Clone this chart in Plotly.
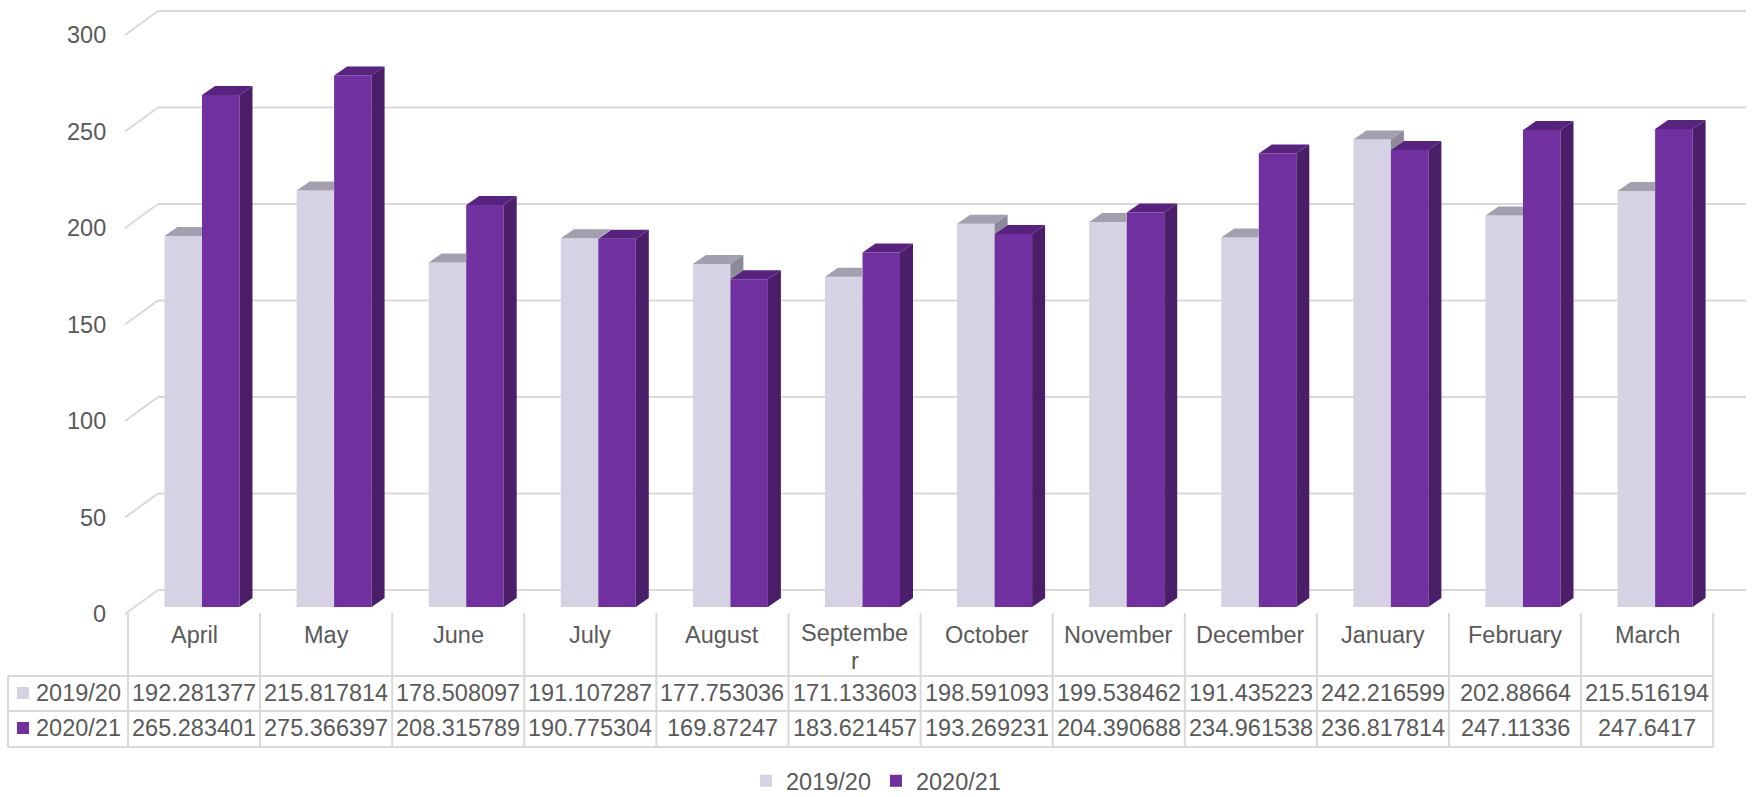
import plotly.graph_objects as go

# ---------------- data ----------------
months = ["April", "May", "June", "July", "August", "September", "October",
          "November", "December", "January", "February", "March"]
month_labels = ["April", "May", "June", "July", "August", "Septembe<br>r", "October",
                "November", "December", "January", "February", "March"]
series_names = ["2019/20", "2020/21"]
values_1920 = [192.281377, 215.817814, 178.508097, 191.107287, 177.753036, 171.133603,
               198.591093, 199.538462, 191.435223, 242.216599, 202.88664, 215.516194]
values_2021 = [265.283401, 275.366397, 208.315789, 190.775304, 169.87247, 183.621457,
               193.269231, 204.390688, 234.961538, 236.817814, 247.11336, 247.6417]
y_ticks = [0, 50, 100, 150, 200, 250, 300]

# ---------------- styling / geometry ----------------
W, H = 1752, 797
X0, XS = 202.0, 132.1          # pixel of first category's bar-pair centre, pixels per category
Y0, YS = 607.0, 1.93           # pixel of value 0 on bar front face, pixels per unit
FONT = "Liberation Sans, Arial, sans-serif"
TXT = "#595959"
GRID = "#D9D9D9"
FS = 23.5

light_front, light_top, light_side = "#D5D2E3", "#A39FAF", "#8D8A99"
purp_front, purp_top, purp_side = "#7030A0", "#57237F", "#4A1E68"


def px2x(p):
    return (p - X0) / XS


def px2y(p):
    return (Y0 - p) / YS


bw = 37.5 / XS      # bar width in category units
dx = 13.0 / XS      # depth offset (x)
dy = 9.0 / YS       # depth offset (y, value units)

idx = list(range(len(months)))

fig = go.Figure()

# front faces as real bars
fig.add_trace(go.Bar(x=idx, y=values_1920, width=bw, offset=-bw, name=series_names[0],
                     marker=dict(color=light_front, line=dict(width=0)),
                     customdata=months, hovertemplate="%{customdata}: %{y}<extra>2019/20</extra>"))
fig.add_trace(go.Bar(x=idx, y=values_2021, width=bw, offset=0, name=series_names[1],
                     marker=dict(color=purp_front, line=dict(width=0)),
                     customdata=months, hovertemplate="%{customdata}: %{y}<extra>2020/21</extra>"))


def poly_trace(xs, ys, color):
    return go.Scatter(x=xs, y=ys, mode="lines", fill="toself", fillcolor=color,
                      line=dict(width=0, color=color), hoverinfo="skip", showlegend=False)


# light series top + visible side
lt_x, lt_y, ls_x, ls_y = [], [], [], []
for i, (a, b) in enumerate(zip(values_1920, values_2021)):
    x0, x1 = i - bw, i
    if b >= a:
        lt_x += [x0, x1, x1, x0 + dx, x0, None]
        lt_y += [a, a, a + dy, a + dy, a, None]
    else:
        lt_x += [x0, x1, x1 + dx, x0 + dx, x0, None]
        lt_y += [a, a, a + dy, a + dy, a, None]
        ls_x += [x1, x1 + dx, x1 + dx, x1, x1, None]
        ls_y += [b, b + dy, a + dy, a, b, None]
fig.add_trace(poly_trace(lt_x, lt_y, light_top))
if ls_x:
    fig.add_trace(poly_trace(ls_x, ls_y, light_side))

# purple series top + side
pt_x, pt_y, ps_x, ps_y = [], [], [], []
for i, b in enumerate(values_2021):
    x1, x2 = i, i + bw
    pt_x += [x1, x2, x2 + dx, x1 + dx, x1, None]
    pt_y += [b, b, b + dy, b + dy, b, None]
    ps_x += [x2, x2 + dx, x2 + dx, x2, x2, None]
    ps_y += [0, dy, b + dy, b, 0, None]
fig.add_trace(poly_trace(pt_x, pt_y, purp_top))
fig.add_trace(poly_trace(ps_x, ps_y, purp_side))

shapes = []
annotations = []


def line(xa, ya, xb, yb, color=GRID, w=2):
    shapes.append(dict(type="line", xref="x", yref="y", x0=px2x(xa), y0=px2y(ya),
                       x1=px2x(xb), y1=px2y(yb), line=dict(color=color, width=w),
                       layer="below"))


# 3D gridlines (back wall + left floor/side diagonal)
for t in y_ticks:
    yb = 590 - YS * t
    yf = 614 - YS * t
    line(158, yb, 1746, yb)
    line(125, yf, 158, yb)
    annotations.append(dict(xref="x", yref="y", x=px2x(108), y=px2y(yf), text=str(t),
                            xanchor="right", yanchor="middle", showarrow=False,
                            font=dict(family=FONT, size=FS, color=TXT)))

# data table grid
COL0 = 128.0
ncol = len(months)
for k in range(ncol + 1):
    xk = COL0 + XS * k
    line(xk, 613, xk, 747)
line(8, 676, 8, 747)
for yy in (676, 711, 747):
    line(8, yy, COL0 + XS * ncol, yy)

# header labels
for k, lab in enumerate(month_labels):
    xc = COL0 + XS * (k + 0.5)
    parts = lab.split("<br>")
    for j, part in enumerate(parts):
        ypx = 635 if len(parts) == 1 else 633 + 28 * j
        annotations.append(dict(xref="x", yref="y", x=px2x(xc), y=px2y(ypx),
                                text=part, xanchor="center", yanchor="middle",
                                showarrow=False, font=dict(family=FONT, size=FS, color=TXT)))

# table rows
for r, (nm, vals, col) in enumerate(zip(series_names, [values_1920, values_2021],
                                        [light_front, purp_front])):
    yc = 693 + 35 * r
    shapes.append(dict(type="rect", xref="x", yref="y", x0=px2x(17), x1=px2x(29),
                       y0=px2y(yc - 6), y1=px2y(yc + 6), fillcolor=col,
                       line=dict(width=0), layer="below"))
    annotations.append(dict(xref="x", yref="y", x=px2x(34), y=px2y(yc), text=nm,
                            xanchor="left", yanchor="middle", showarrow=False,
                            font=dict(family=FONT, size=FS, color=TXT)))
    for k, v in enumerate(vals):
        xc = COL0 + XS * (k + 0.5)
        annotations.append(dict(xref="x", yref="y", x=px2x(xc), y=px2y(yc), text=repr(v),
                                xanchor="center", yanchor="middle", showarrow=False,
                                font=dict(family=FONT, size=FS, color=TXT)))

fig.update_layout(
    width=W, height=H,
    margin=dict(l=0, r=0, t=0, b=0, pad=0, autoexpand=False),
    paper_bgcolor="white", plot_bgcolor="white",
    barmode="overlay",
    xaxis=dict(range=[px2x(0), px2x(W)], visible=False, fixedrange=True),
    yaxis=dict(range=[px2y(H), px2y(0)], visible=False, fixedrange=True),
    shapes=shapes, annotations=annotations,
    showlegend=True,
    legend=dict(orientation="h", x=0.5, xanchor="center", y=1 - 781 / H, yanchor="middle",
                font=dict(family=FONT, size=FS, color=TXT), bgcolor="rgba(0,0,0,0)",
                itemwidth=30, tracegroupgap=0),
    font=dict(family=FONT, color=TXT),
)

fig.write_html("out.html", config={"displayModeBar": False},
               post_script="document.body.style.margin='0';document.body.style.overflow='hidden';")
